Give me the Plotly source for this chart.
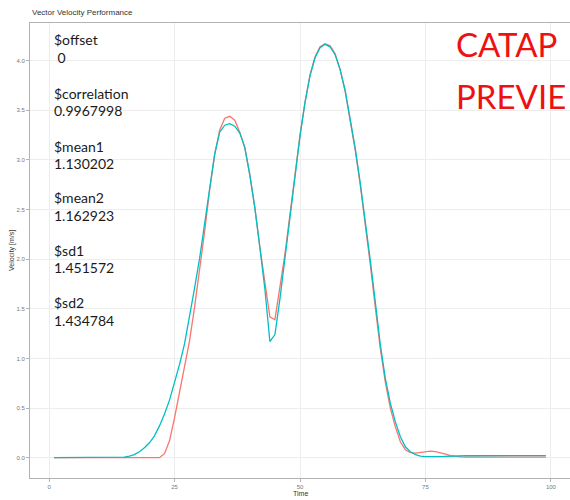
import plotly.graph_objects as go

# ---- data ----
time = list(range(1, 100))

series1 = [0.0] * 21 + [
    0.0, 0.04, 0.17, 0.40, 0.65, 0.90, 1.18, 1.52, 1.88, 2.28,
    2.70, 3.05, 3.30, 3.42, 3.44, 3.40, 3.28, 3.12, 2.85, 2.52,
    2.12, 1.75, 1.42, 1.39, 1.70, 2.05, 2.45, 2.86, 3.25, 3.58,
    3.86, 4.04, 4.14, 4.17, 4.15, 4.07, 3.91, 3.69, 3.41, 3.10,
    2.75, 2.37, 1.95, 1.52, 1.10, 0.76, 0.50, 0.31, 0.16, 0.08,
    0.05, 0.045, 0.05, 0.06, 0.065, 0.06, 0.05, 0.035, 0.02, 0.012,
    0.008,
] + [0.005] * 17

series2 = [0.0] * 14 + [
    0.005, 0.015, 0.03, 0.06, 0.10, 0.15, 0.22, 0.32, 0.44, 0.58,
    0.76, 0.94, 1.15, 1.42, 1.71, 2.01, 2.35, 2.72, 3.06, 3.28,
    3.35, 3.365, 3.34, 3.27, 3.13, 2.85, 2.52, 2.12, 1.70, 1.17,
    1.24, 1.60, 2.01, 2.43, 2.85, 3.24, 3.58, 3.85, 4.03, 4.13,
    4.165, 4.14, 4.06, 3.91, 3.70, 3.43, 3.12, 2.77, 2.40, 1.99,
    1.57, 1.14, 0.80, 0.55, 0.36, 0.21, 0.11, 0.06, 0.03, 0.015,
    0.01, 0.008, 0.008, 0.01, 0.012, 0.015,
] + [0.018, 0.018, 0.019, 0.019, 0.02, 0.02, 0.02, 0.02, 0.02, 0.02,
     0.02, 0.02, 0.02, 0.02, 0.02, 0.02, 0.02, 0.02, 0.02]

stat_labels = ["$offset", "$correlation", "$mean1", "$mean2", "$sd1", "$sd2"]
stat_values = [" 0", "0.9967998", "1.130202", "1.162923", "1.451572", "1.434784"]
watermark = ["CATAP", "PREVIE"]

x_ticks = [0, 25, 50, 75, 100]
y_ticks = [0.0, 0.5, 1.0, 1.5, 2.0, 2.5, 3.0, 3.5, 4.0]

# ---- figure ----
W, H = 570, 500
L, R, T, B = 30, 0, 23, 22
pw, ph = W - L - R, H - T - B

def px(x):
    return (x - L) / pw

def py(y):
    return (H - B - y) / ph

fig = go.Figure()
fig.add_trace(go.Scatter(x=time, y=series1, mode="lines",
                         line=dict(color="#F8766D", width=1.3), showlegend=False))
fig.add_trace(go.Scatter(x=time, y=series2, mode="lines",
                         line=dict(color="#00BFC4", width=1.3), showlegend=False))

annotations = []
label_y = [40, 93, 146, 198, 250, 302]
value_y = [58, 111, 163, 215, 267, 320]
for lab, val, ly, vy in zip(stat_labels, stat_values, label_y, value_y):
    annotations.append(dict(text=lab, x=px(52), y=py(ly), xref="paper", yref="paper",
                            xanchor="left", yanchor="middle", showarrow=False,
                            font=dict(family="Lato", size=14, color="#1a1a1a")))
    annotations.append(dict(text=val, x=px(52), y=py(vy), xref="paper", yref="paper",
                            xanchor="left", yanchor="middle", showarrow=False,
                            font=dict(family="Lato", size=14, color="#1a1a1a")))

for txt, wy in zip(watermark, [44, 96]):
    annotations.append(dict(text=txt, x=px(454), y=py(wy), xref="paper", yref="paper",
                            xanchor="left", yanchor="middle", showarrow=False,
                            font=dict(family="Lato", size=33, color="#EE1111")))

annotations.append(dict(text="Vector Velocity Performance", x=px(30), y=py(12),
                        xref="paper", yref="paper", xanchor="left", yanchor="middle",
                        showarrow=False, font=dict(family="Liberation Sans", size=8, color="#333333")))
annotations.append(dict(text="Time", x=px(300), y=py(493), xref="paper", yref="paper",
                        xanchor="center", yanchor="middle", showarrow=False,
                        font=dict(family="Liberation Sans", size=7, color="#333333")))
annotations.append(dict(text="Velocity [m/s]", x=px(12), y=py(251), xref="paper", yref="paper",
                        xanchor="center", yanchor="middle", showarrow=False, textangle=-90,
                        font=dict(family="Liberation Sans", size=7, color="#333333")))

axis_common = dict(showgrid=True, gridcolor="#EDEDED", gridwidth=1, zeroline=False,
                   showline=True, linecolor="#B3B3B3", linewidth=1, mirror=True,
                   ticks="outside", ticklen=3, tickcolor="#B3B3B3", tickwidth=1,
                   tickfont=dict(family="Liberation Sans", size=6, color="#777777"))

fig.update_layout(
    width=W, height=H,
    margin=dict(l=L, r=R, t=T, b=B),
    paper_bgcolor="white", plot_bgcolor="white",
    annotations=annotations,
    xaxis=dict(range=[-3.8, 103.8], tickvals=x_ticks, ticktext=[str(v) for v in x_ticks],
               **axis_common),
    yaxis=dict(range=[-0.205, 4.38], tickvals=y_ticks, tickformat=".1f", **axis_common),
)

fig.write_html("out.html")
